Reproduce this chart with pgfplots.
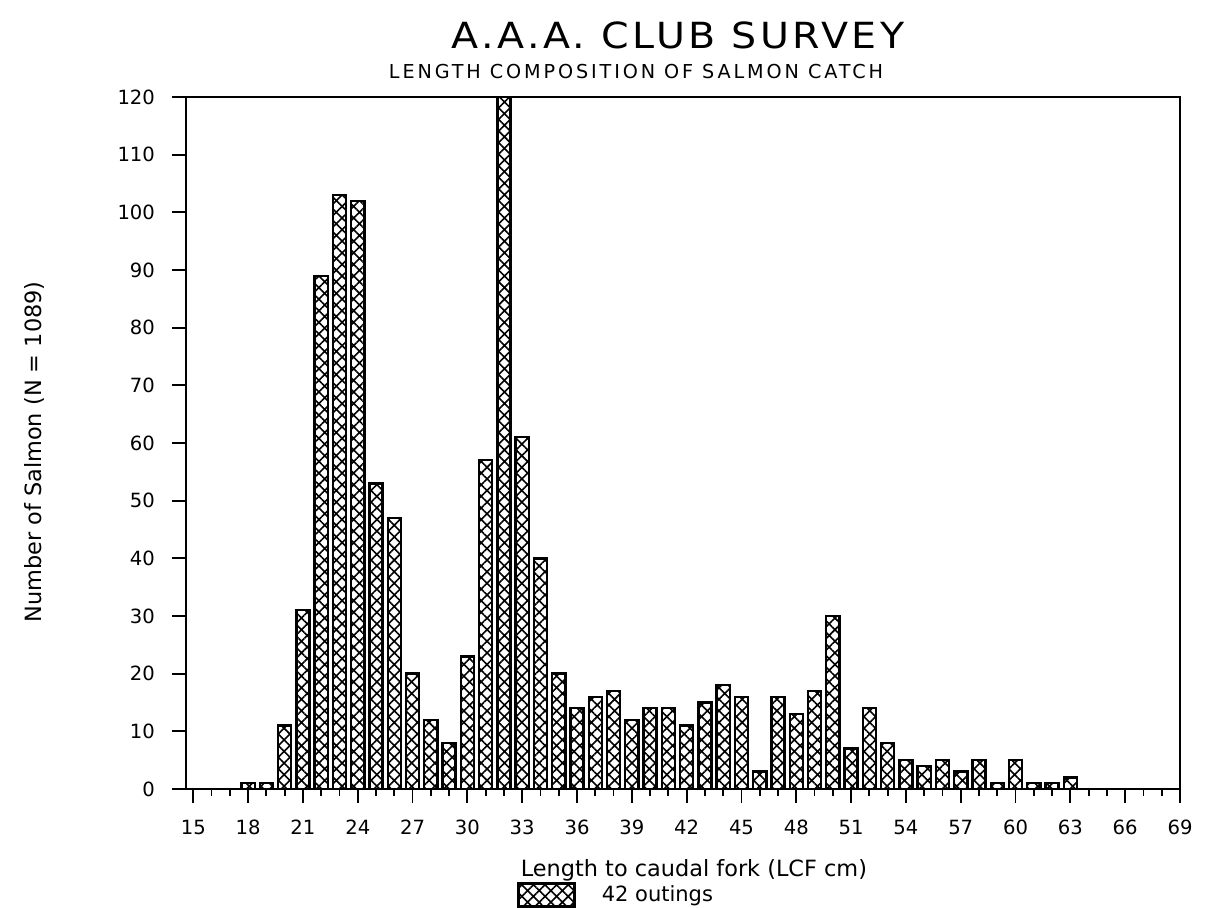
\documentclass[border=0pt]{standalone}
\usepackage{pgfplots}
\pgfplotsset{compat=1.18}
\usetikzlibrary{patterns,patterns.meta}
\usepackage{fontspec}
\setmainfont{DejaVu Sans}
\newfontfamily\titlefont[LetterSpace=8]{DejaVu Sans Condensed}
\newfontfamily\subfont[LetterSpace=15]{DejaVu Sans}
\begin{document}
\begin{tikzpicture}
\useasboundingbox (-93pt,-59.5pt) rectangle (512pt,394.5pt);
\begin{axis}[
  at={(0pt,0pt)}, anchor=south west,
  width=497pt, height=346pt, scale only axis,
  xmin=14.6, xmax=69, ymin=0, ymax=120,
  xtick={15,18,...,69}, minor xtick={15,...,69},
  ytick={0,10,...,120},
  tick align=outside,
  xtick pos=bottom, ytick pos=left,
  major tick length=7pt, minor tick length=3.5pt,
  every tick/.style={black, line width=0.9pt},
  axis line style={line width=1pt},
  /pgf/number format/assume math mode=true,
  tick label style={font=\fontsize{9.8}{10}\selectfont},
  xticklabel shift=5pt,
  yticklabel shift=5pt,
  every axis y label/.style={at={(axis description cs:-0.152,0.487)}, rotate=90, anchor=center},
  every axis x label/.style={at={(axis description cs:0.511,-0.117)}, anchor=center},
  label style={font=\fontsize{11.2}{13}\selectfont},
  xlabel={Length to caudal fork (LCF cm)},
  ylabel={Number of Salmon (N = 1089)},
  legend style={at={(axis description cs:0.333,-0.153)}, anchor=west, draw=none, fill=none,
    inner sep=0pt, font=\fontsize{10.5}{12}\selectfont,
    /tikz/every odd column/.append style={column sep=11pt}},
  legend image code/.code={\draw[#1] (0pt,-5.75pt) rectangle (28pt,5.75pt);},
]
\addplot[ybar, bar width=0.72, draw=black, line width=1.2pt,
  pattern={Hatch[angle=45,distance=4.1pt,line width=0.8pt]}] coordinates {
(18,1) (19,1) (20,11) (21,31) (22,89) (23,103) (24,102) (25,53) (26,47) (27,20)
(28,12) (29,8) (30,23) (31,57) (32,120) (33,61) (34,40) (35,20) (36,14) (37,16)
(38,17) (39,12) (40,14) (41,14) (42,11) (43,15) (44,18) (45,16) (46,3) (47,16)
(48,13) (49,17) (50,30) (51,7) (52,14) (53,8) (54,5) (55,4) (56,5) (57,3)
(58,5) (59,1) (60,5) (61,1) (62,1) (63,2)
};
\addlegendentry{42 outings}
\end{axis}
\node[font=\titlefont\fontsize{18}{22}\selectfont] at (246pt,377pt) {\scalebox{1.22}[1]{A.A.A. CLUB SURVEY}};
\node[font=\subfont\fontsize{9.6}{11}\selectfont] at (225pt,358.5pt) {LENGTH COMPOSITION OF SALMON CATCH};
\end{tikzpicture}
\end{document}
